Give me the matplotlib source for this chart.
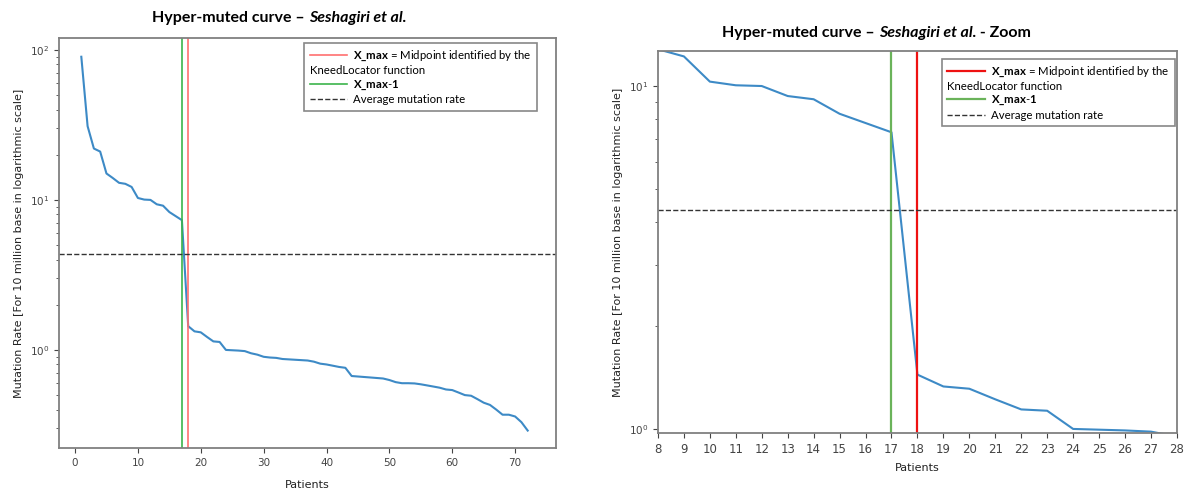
import matplotlib
matplotlib.use('Agg')
import matplotlib.pyplot as plt
from matplotlib.lines import Line2D
import numpy as np

# mutation rate per patient, sorted descending (for 10 million bases)
patients = np.arange(1, 73)
rates = [90, 31, 22, 21, 15, 14, 13, 12.8, 12.2, 10.3,
         10.05, 10.0, 9.35, 9.15, 8.3, 7.8, 7.33, 1.44, 1.33, 1.31,
         1.22, 1.14, 1.13, 1.0, 0.995, 0.99, 0.982, 0.95, 0.93, 0.9,
         0.89, 0.885, 0.87, 0.865, 0.86, 0.855, 0.85, 0.835, 0.81, 0.8,
         0.785, 0.77, 0.76, 0.67, 0.665, 0.66, 0.655, 0.65, 0.645, 0.63,
         0.61, 0.6, 0.6, 0.598, 0.59, 0.58, 0.57, 0.56, 0.545, 0.54,
         0.52, 0.5, 0.495, 0.47, 0.445, 0.43, 0.4, 0.37, 0.37, 0.36,
         0.33, 0.29]
x_max = 18
avg_rate = 4.35

plt.rcParams['mathtext.fontset'] = 'custom'
plt.rcParams['mathtext.bf'] = 'Lato:bold'
plt.rcParams['mathtext.rm'] = 'Lato'

fig = plt.figure(figsize=(11.87, 4.91), dpi=100)
ax1 = fig.add_axes([0.0497, 0.0876, 0.4187, 0.835])
ax2 = fig.add_axes([0.5543, 0.1181, 0.4372, 0.778])

blue = '#3d8ac6'
labels = [r'$\bf{X\_max}$ = Midpoint identified by the',
          'KneedLocator function',
          r'$\bf{X\_max}$-$\bf{1}$', 'Average mutation rate']
LEG_FS = 8.2
LEG_HL = 3.3
LEG_PAD = 0.5


def draw(ax, red, green, lw_v, labelpad):
    ax.plot(patients, rates, color=blue, lw=1.5)
    l1 = ax.axvline(x_max, color=red, lw=lw_v)
    l2 = ax.axvline(x_max - 1, color=green, lw=lw_v)
    l3 = ax.axhline(avg_rate, color='#333333', lw=1, ls='--')
    ax.set_yscale('log')
    for s in ax.spines.values():
        s.set_color('#808080')
        s.set_linewidth(1.3)
    ax.tick_params(colors='#444444', labelsize=7.5, which='both')
    ax.set_xlabel('Patients', fontsize=8, color='#222222', labelpad=labelpad)
    ax.set_ylabel('Mutation Rate [For 10 million base in logarithmic scale]',
                  fontsize=8, color='#222222')
    blank = Line2D([], [], lw=0)
    return [l1, blank, l2, l3]


def legend(ax, handles, anchor):
    leg = ax.legend(handles, labels, loc='upper right', bbox_to_anchor=anchor,
                    fancybox=False, edgecolor='#888888', framealpha=1,
                    prop={'family': 'Lato', 'size': LEG_FS},
                    handlelength=LEG_HL, handletextpad=LEG_PAD,
                    borderpad=0.5, labelspacing=0.2, borderaxespad=0)
    leg.get_frame().set_linewidth(1.2)
    # wrapped second line starts under the handle
    dx = (LEG_HL + LEG_PAD) * LEG_FS * fig.dpi / 72
    leg.texts[1].set_x(-dx)
    return leg


h = draw(ax1, '#ff7070', '#3cb44b', 1.2, 9)
ax1.set_xlim(-2.55, 76.5)
ax1.set_ylim(0.222, 120)
ax1.set_xticks(range(0, 71, 10))
legend(ax1, h, (0.962, 0.988))

h = draw(ax2, '#ee1111', '#6ab35a', 1.6, 5)
ax2.set_xlim(8, 28)
ax2.set_ylim(0.973, 12.65)
ax2.set_xticks(range(8, 29))
ax2.tick_params(axis='x', labelsize=8.5)
legend(ax2, h, (0.996, 0.98))


def title(x, y, parts):
    fig.text(x, y, parts[0], ha='right', va='center', family='Lato',
             fontweight='bold', fontsize=11.5)
    t = fig.text(x, y, parts[1], ha='left', va='center', family='Lato',
                 fontweight='bold', style='italic', fontsize=11.5)
    if len(parts) > 2:
        fig.canvas.draw()
        bb = t.get_window_extent(fig.canvas.get_renderer())
        fig.text(bb.x1 / fig.bbox.width, y, parts[2], ha='left', va='center',
                 family='Lato', fontweight='bold', fontsize=11.5)


title(0.260, 0.963, ['Hyper-muted curve – ', 'Seshagiri et al.'])
title(0.7405, 0.933, ['Hyper-muted curve – ', 'Seshagiri et al.', ' - Zoom'])

fig.savefig('out.png', dpi=100)
